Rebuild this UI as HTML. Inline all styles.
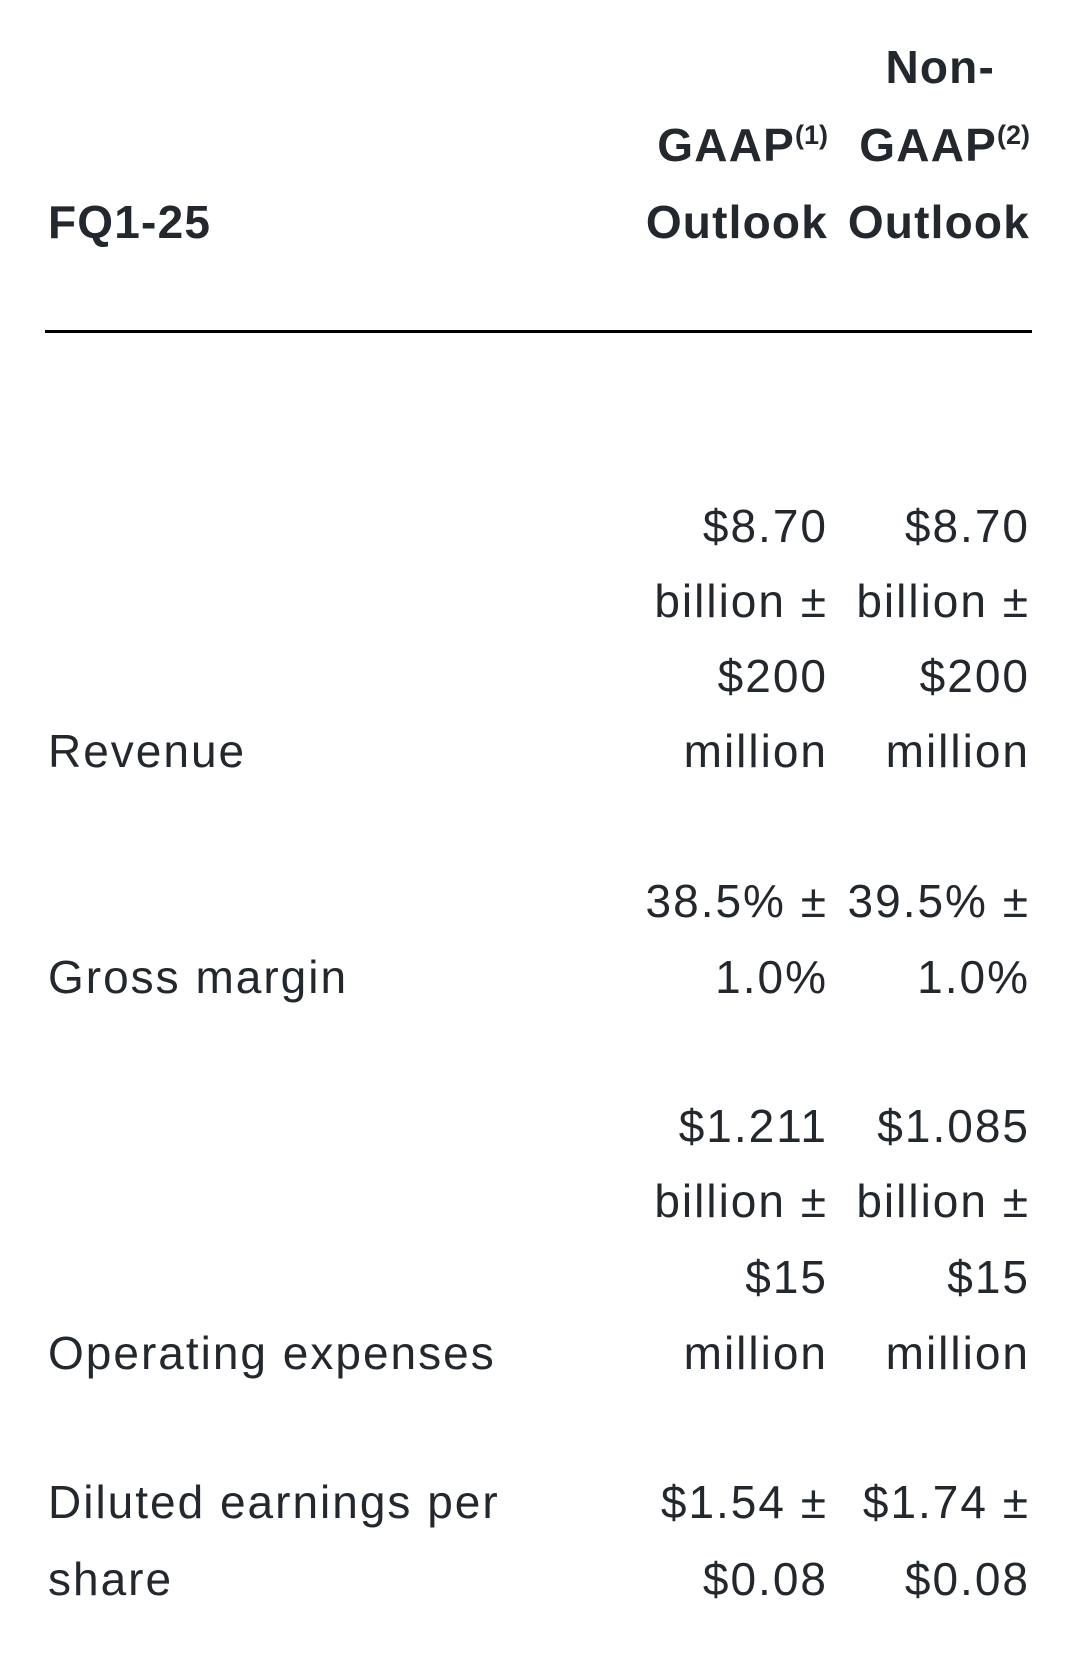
<!DOCTYPE html>
<html><head><meta charset="utf-8"><style>
html,body{margin:0;padding:0;background:#fff;}
body{width:1080px;height:1659px;position:relative;overflow:hidden;font-family:"Liberation Sans",sans-serif;color:#23282f;}
.t{position:absolute;font-size:46px;line-height:46px;white-space:nowrap;letter-spacing:2px;}
.b{font-weight:bold;letter-spacing:1.2px;}
.r{text-align:right;}
.c1{right:252px;}
.c2{right:50px;}
.l{left:48px;}
sup{font-size:27px;line-height:0;vertical-align:17px;letter-spacing:0;}
.rule{position:absolute;left:45px;width:987px;top:330px;height:3px;background:#000;}
</style></head><body>
<div class="t b l" style="top:199px">FQ1-25</div>
<div class="t b r c1" style="top:122px">GAAP<sup>(1)</sup></div>
<div class="t b r c1" style="top:199px">Outlook</div>
<div class="t b r" style="top:44px;right:85px">Non-</div>
<div class="t b r c2" style="top:122px">GAAP<sup>(2)</sup></div>
<div class="t b r c2" style="top:199px">Outlook</div>
<div class="rule"></div>

<div class="t l" style="top:728px">Revenue</div>
<div class="t r c1" style="top:503px">$8.70</div>
<div class="t r c1" style="top:578px">billion ±</div>
<div class="t r c1" style="top:653px">$200</div>
<div class="t r c1" style="top:728px">million</div>
<div class="t r c2" style="top:503px">$8.70</div>
<div class="t r c2" style="top:578px">billion ±</div>
<div class="t r c2" style="top:653px">$200</div>
<div class="t r c2" style="top:728px">million</div>

<div class="t l" style="top:954px">Gross margin</div>
<div class="t r c1" style="top:878px">38.5% ±</div>
<div class="t r c1" style="top:954px">1.0%</div>
<div class="t r c2" style="top:878px">39.5% ±</div>
<div class="t r c2" style="top:954px">1.0%</div>

<div class="t l" style="top:1330px">Operating expenses</div>
<div class="t r c1" style="top:1103px">$1.211</div>
<div class="t r c1" style="top:1178px">billion ±</div>
<div class="t r c1" style="top:1254px">$15</div>
<div class="t r c1" style="top:1330px">million</div>
<div class="t r c2" style="top:1103px">$1.085</div>
<div class="t r c2" style="top:1178px">billion ±</div>
<div class="t r c2" style="top:1254px">$15</div>
<div class="t r c2" style="top:1330px">million</div>

<div class="t l" style="top:1479px">Diluted earnings per</div>
<div class="t l" style="top:1556px">share</div>
<div class="t r c1" style="top:1479px">$1.54 ±</div>
<div class="t r c1" style="top:1556px">$0.08</div>
<div class="t r c2" style="top:1479px">$1.74 ±</div>
<div class="t r c2" style="top:1556px">$0.08</div>
</body></html>
